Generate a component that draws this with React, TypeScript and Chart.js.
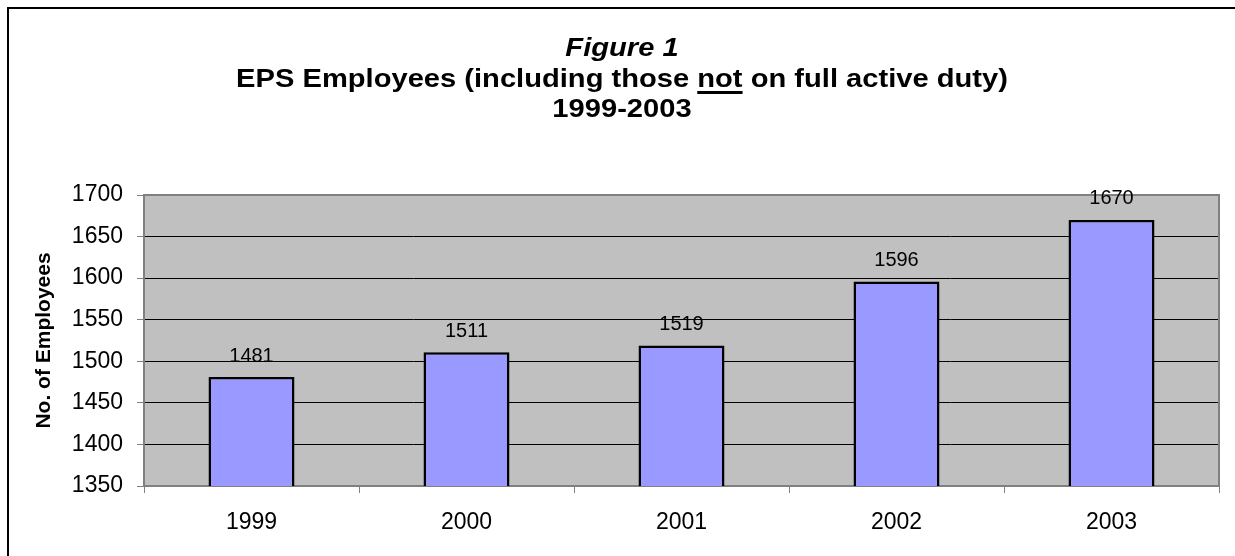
import React, { useEffect, useRef } from "react";
import { Chart, registerables } from "chart.js";

Chart.register(...registerables);

const years = ["1999", "2000", "2001", "2002", "2003"];
const employees = [1481, 1511, 1519, 1596, 1670];
const yMin = 1350;
const yMax = 1700;
const yStep = 50;

const titleLines = ["Figure 1", "EPS Employees (including those not on full active duty)", "1999-2003"];
const yAxisTitle = "No. of Employees";

const FONT = "'Liberation Sans', Arial, Helvetica, sans-serif";

const plotBackground = {
  id: "plotBackground",
  beforeDraw(chart: any) {
    const { ctx, chartArea: a } = chart;
    ctx.save();
    ctx.fillStyle = "#C0C0C0";
    ctx.fillRect(a.left, a.top, a.right - a.left, a.bottom - a.top);
    ctx.restore();
  },
  afterDatasetsDraw(chart: any) {
    const { ctx, chartArea: a } = chart;
    ctx.save();
    ctx.strokeStyle = "#808080";
    ctx.lineWidth = 2;
    ctx.beginPath();
    ctx.moveTo(a.left, a.top);
    ctx.lineTo(a.right, a.top);
    ctx.lineTo(a.right, a.bottom);
    ctx.stroke();
    ctx.restore();
  },
};

const valueLabels = {
  id: "valueLabels",
  afterDatasetsDraw(chart: any) {
    const { ctx } = chart;
    const meta = chart.getDatasetMeta(0);
    const values = chart.data.datasets[0].data as number[];
    ctx.save();
    ctx.font = `20px ${FONT}`;
    ctx.fillStyle = "#000";
    ctx.textAlign = "center";
    ctx.textBaseline = "middle";
    meta.data.forEach((bar: any, i: number) => {
      ctx.fillText(String(values[i]), bar.x, bar.y - 21);
    });
    ctx.restore();
  },
};

const frameAndTitle = {
  id: "frameAndTitle",
  afterDraw(chart: any) {
    const { ctx } = chart;
    ctx.save();
    // outer frame (left and top edges)
    ctx.strokeStyle = "#000";
    ctx.lineWidth = 2;
    ctx.beginPath();
    ctx.moveTo(8, chart.height);
    ctx.lineTo(8, 8);
    ctx.lineTo(chart.width, 8);
    ctx.stroke();

    const cx = 622;
    const sx = 1.12;
    ctx.fillStyle = "#000";
    ctx.textBaseline = "alphabetic";
    ctx.textAlign = "center";

    const drawLine = (text: string, y: number, font: string) => {
      ctx.save();
      ctx.font = font;
      ctx.translate(cx, y);
      ctx.scale(sx, 1);
      ctx.fillText(text, 0, 0);
      ctx.restore();
    };

    drawLine(titleLines[0], 56, `italic bold 26px ${FONT}`);
    drawLine(titleLines[1], 87, `bold 26px ${FONT}`);
    drawLine(titleLines[2], 117, `bold 26px ${FONT}`);

    // underline the word "not"
    ctx.font = `bold 26px ${FONT}`;
    const full = titleLines[1];
    const idx = full.indexOf(" not ") + 1;
    const totalW = ctx.measureText(full).width * sx;
    const preW = ctx.measureText(full.slice(0, idx)).width * sx;
    const wordW = ctx.measureText("not").width * sx;
    const x0 = cx - totalW / 2 + preW;
    ctx.fillRect(x0, 91, wordW, 3);
    ctx.restore();
  },
};

export default function App() {
  const canvasRef = useRef<HTMLCanvasElement | null>(null);

  useEffect(() => {
    const canvas = canvasRef.current;
    if (!canvas) return;
    const chart = new Chart(canvas, {
      type: "bar",
      data: {
        labels: years,
        datasets: [
          {
            data: employees,
            backgroundColor: "#9999FF",
            borderColor: "#000000",
            borderWidth: 2.5,
            borderSkipped: false,
            barPercentage: 0.4,
            categoryPercentage: 1,
          },
        ],
      },
      options: {
        animation: false,
        responsive: false,
        devicePixelRatio: 1,
        layout: { padding: { top: 195, right: 16, bottom: 0, left: 0 } },
        plugins: {
          legend: { display: false },
          title: { display: false },
          tooltip: { enabled: false },
        },
        scales: {
          x: {
            afterFit(scale: any) {
              scale.height = 70;
            },
            grid: {
              offset: true,
              drawOnChartArea: false,
              tickLength: 7,
              tickColor: "#808080",
              tickWidth: 1,
            },
            border: { color: "#808080", width: 2 },
            ticks: {
              color: "#000",
              font: { family: FONT, size: 23 },
              padding: 16,
            },
          },
          y: {
            min: yMin,
            max: yMax,
            afterFit(scale: any) {
              scale.width = 144;
            },
            grid: {
              color: "#000",
              lineWidth: 1,
              tickLength: 7,
              tickColor: "#808080",
            },
            border: { color: "#808080", width: 2 },
            ticks: {
              stepSize: yStep,
              color: "#000",
              font: { family: FONT, size: 23 },
              padding: 14,
              callback: (v: any) => String(v),
            },
            title: {
              display: true,
              text: yAxisTitle,
              color: "#000",
              font: { family: FONT, size: 21, weight: "bold" },
              padding: { top: 32, bottom: 0 },
            },
          },
        },
      },
      plugins: [plotBackground, valueLabels, frameAndTitle],
    });
    return () => chart.destroy();
  }, []);

  return (
    <div style={{ position: "absolute", left: 0, top: 0, width: 1235, height: 556, background: "#fff" }}>
      <canvas ref={canvasRef} width={1235} height={556} />
    </div>
  );
}
